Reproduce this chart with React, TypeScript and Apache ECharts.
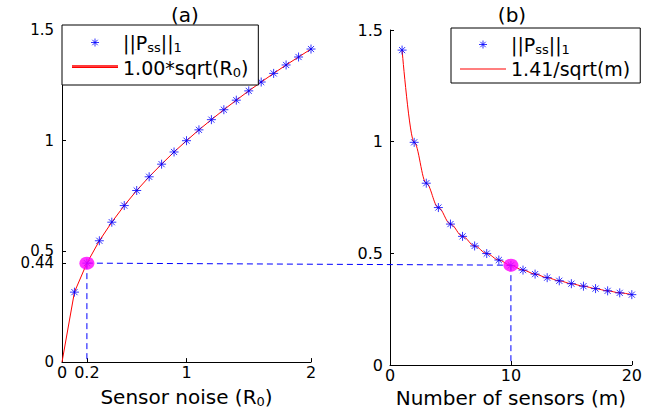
import React, { useEffect, useRef } from "react";
import * as echarts from "echarts";

// ---- data ----
const noiseR0 = [0.1, 0.2, 0.3, 0.4, 0.5, 0.6, 0.7, 0.8, 0.9, 1.0, 1.1, 1.2, 1.3, 1.4, 1.5, 1.6, 1.7, 1.8, 1.9, 2.0];
const pssNoise = [0.316, 0.447, 0.548, 0.632, 0.707, 0.775, 0.837, 0.894, 0.949, 1.0, 1.049, 1.095, 1.14, 1.183, 1.225, 1.265, 1.304, 1.342, 1.378, 1.414];
const fitNoiseX = [0, 0.1, 0.2, 0.3, 0.4, 0.5, 0.6, 0.7, 0.8, 0.9, 1.0, 1.1, 1.2, 1.3, 1.4, 1.5, 1.6, 1.7, 1.8, 1.9, 2.0];
const fitNoiseY = [0, 0.316, 0.447, 0.548, 0.632, 0.707, 0.775, 0.837, 0.894, 0.949, 1.0, 1.049, 1.095, 1.14, 1.183, 1.225, 1.265, 1.304, 1.342, 1.378, 1.414];

const sensorsM = [1, 2, 3, 4, 5, 6, 7, 8, 9, 10, 11, 12, 13, 14, 15, 16, 17, 18, 19, 20];
const pssSensors = [1.41, 0.997, 0.814, 0.705, 0.631, 0.576, 0.533, 0.499, 0.47, 0.446, 0.425, 0.407, 0.391, 0.377, 0.364, 0.353, 0.342, 0.332, 0.323, 0.315];

const markedNoise = 0.2;
const markedSensors = 10;
const markedValue = 0.447;

const xTicksA = [0, 0.2, 1, 2];
const xTickLabelsA = ["0", "0.2", "1", "2"];
const yTicksA = [0, 0.447, 0.5, 1, 1.5];
const yTickLabelsA = ["0", "0.44", "0.5", "1", "1.5"];
const xTicksB = [0, 10, 20];
const yTicksB = [0, 0.5, 1, 1.5];

const legendLabels: Record<string, string> = {
  pssA: "||P{sub|ss}||{sub|1}",
  fitA: "1.00*sqrt(R{sub|0})",
  pssB: "||P{sub|ss}||{sub|1}",
  fitB: "1.41/sqrt(m)",
};

const FONT = "DejaVu Sans";
const STAR = "path://M5 0 L5 10 M0 5 L10 5 M1.6 1.6 L8.4 8.4 M8.4 1.6 L1.6 8.4";
const LINE_ICON = "path://M0 0 L46 0 L46 1 L0 1 Z";
const BLUE = "#0000ff";
const RED = "#ff0000";
const MAGENTA = "#ff00ff";

const zip = (xs: number[], ys: number[]) => xs.map((x, i) => [x, ys[i]]);

const subRich = {
  sub: { fontFamily: FONT, fontSize: 13, lineHeight: 12, padding: [10, 0, 0, 0], color: "#000" },
};

function axisBase(extra: any) {
  return {
    type: "value",
    axisLine: { show: true, lineStyle: { color: "#000", width: 1 } },
    splitLine: { show: false },
    ...extra,
  };
}

function ticks(values: number[]) {
  return { show: true, inside: true, length: 4, lineStyle: { color: "#000" }, customValues: values };
}

function makeLegend(left: number, top: number, names: string[], padding: number[]) {
  return {
    orient: "vertical",
    left,
    top,
    z: 10,
    data: [
      { name: names[0], icon: STAR, itemStyle: { color: BLUE, borderColor: BLUE, borderWidth: 1 } },
      { name: names[1], icon: LINE_ICON },
    ],
    formatter: (n: string) => legendLabels[n],
    textStyle: { fontFamily: FONT, fontSize: 19, color: "#000", lineHeight: 22, rich: subRich },
    itemWidth: 46,
    itemHeight: 8,
    itemGap: 2,
    padding,
    borderColor: "#000",
    borderWidth: 1,
    backgroundColor: "#fff",
    selectedMode: false,
  };
}

function fitSeries(name: string, axis: number, data: number[][], smooth: number) {
  return {
    name,
    type: "line",
    xAxisIndex: axis,
    yAxisIndex: axis,
    data,
    symbol: "none",
    smooth,
    smoothMonotone: "x",
    color: RED,
    lineStyle: { color: RED, width: 1 },
    itemStyle: { color: RED, borderWidth: 0 },
    z: 2,
  };
}

function starSeries(name: string, axis: number, data: number[][]) {
  return {
    name,
    type: "scatter",
    xAxisIndex: axis,
    yAxisIndex: axis,
    data,
    symbol: STAR,
    symbolSize: 9,
    symbolKeepAspect: true,
    itemStyle: { color: BLUE, borderColor: BLUE, borderWidth: 1 },
    z: 3,
  };
}

function dotSeries(name: string, axis: number, data: number[][]) {
  return {
    name,
    type: "scatter",
    xAxisIndex: axis,
    yAxisIndex: axis,
    data,
    symbol: "circle",
    symbolSize: [15, 13],
    itemStyle: { color: MAGENTA },
    z: 5,
  };
}

export default function App() {
  const ref = useRef<HTMLDivElement>(null);

  useEffect(() => {
    if (!ref.current) return;
    const chart = echarts.init(ref.current, null, { renderer: "svg" });
    const labelStyle = { fontFamily: FONT, fontSize: 16, lineHeight: 12, color: "#000" };
    const nameStyle = { fontFamily: FONT, fontSize: 20, color: "#000", rich: subRich };

    chart.setOption({
      animation: false,
      backgroundColor: "#fff",
      color: [BLUE, RED, MAGENTA],
      grid: [
        { left: 62, top: 30, width: 249, height: 335 },
        { left: 390, top: 30, width: 248, height: 335 },
      ],
      xAxis: [
        axisBase({
          gridIndex: 0,
          min: 0,
          max: 2,
          name: "Sensor noise (R{sub|0})",
          nameLocation: "middle",
          nameGap: 19,
          nameTextStyle: nameStyle,
          axisTick: ticks(xTicksA),
          axisLabel: {
            ...labelStyle,
            margin: 4,
            customValues: xTicksA,
            formatter: (v: number) => xTickLabelsA[xTicksA.indexOf(v)] ?? String(v),
          },
        }),
        axisBase({
          gridIndex: 1,
          min: 0,
          max: 20,
          interval: 10,
          name: "Number of sensors (m)",
          nameLocation: "middle",
          nameGap: 19,
          nameTextStyle: nameStyle,
          axisTick: ticks(xTicksB),
          axisLabel: { ...labelStyle, margin: 4, customValues: xTicksB },
        }),
      ],
      yAxis: [
        axisBase({
          gridIndex: 0,
          min: 0,
          max: 1.5,
          axisTick: ticks(yTicksA),
          axisLabel: {
            ...labelStyle,
            fontSize: 15,
            lineHeight: 11,
            margin: 8,
            customValues: yTicksA,
            formatter: (v: number) => yTickLabelsA[yTicksA.indexOf(v)] ?? String(v),
          },
        }),
        axisBase({
          gridIndex: 1,
          min: 0,
          max: 1.5,
          interval: 0.5,
          axisTick: ticks(yTicksB),
          axisLabel: { ...labelStyle, margin: 7, customValues: yTicksB },
        }),
      ],
      legend: [
        makeLegend(62, 25, ["pssA", "fitA"], [6, 10, 6, 10]),
        makeLegend(451, 28, ["pssB", "fitB"], [5, 10, 3, 9]),
      ],
      graphic: [
        { id: "ta", type: "text", x: 185, y: 15, style: { text: "(a)", fontFamily: FONT, fontSize: 20, fill: "#000", textAlign: "center", textVerticalAlign: "middle" } },
        { id: "tb", type: "text", x: 512, y: 15, style: { text: "(b)", fontFamily: FONT, fontSize: 20, fill: "#000", textAlign: "center", textVerticalAlign: "middle" } },
        // red key line for the left legend's fit entry
        { id: "keyA", type: "rect", z: 100, zlevel: 0, shape: { x: 72, y: 65, width: 46, height: 2 }, style: { fill: "#ff3b3b" } },
      ],
      series: [
        starSeries("pssA", 0, zip(noiseR0, pssNoise)),
        fitSeries("fitA", 0, zip(fitNoiseX, fitNoiseY), 0),
        dotSeries("dotA", 0, [[markedNoise, markedValue]]),
        starSeries("pssB", 1, zip(sensorsM, pssSensors)),
        fitSeries("fitB", 1, zip(sensorsM, pssSensors), 0.35),
        dotSeries("dotB", 1, [[markedSensors, markedValue]]),
      ],
    });

    // dashed guide lines through the library's own scales
    const pA = chart.convertToPixel({ gridIndex: 0 }, [markedNoise, markedValue]) as number[];
    const pA0 = chart.convertToPixel({ gridIndex: 0 }, [markedNoise, 0]) as number[];
    const pB = chart.convertToPixel({ gridIndex: 1 }, [markedSensors, markedValue]) as number[];
    const pB0 = chart.convertToPixel({ gridIndex: 1 }, [markedSensors, 0]) as number[];
    const dash = { stroke: BLUE, lineWidth: 1, lineDash: [6, 4], fill: null };
    chart.setOption({
      graphic: [
        { id: "h", type: "line", z: 1, shape: { x1: pA[0], y1: pA[1], x2: pB[0], y2: pB[1] }, style: dash },
        { id: "va", type: "line", z: 1, shape: { x1: pA[0], y1: pA[1], x2: pA0[0], y2: pA0[1] }, style: dash },
        { id: "vb", type: "line", z: 1, shape: { x1: pB[0], y1: pB[1], x2: pB0[0], y2: pB0[1] }, style: dash },
      ],
    });

    return () => chart.dispose();
  }, []);

  return <div ref={ref} style={{ position: "absolute", left: 0, top: 0, width: 645, height: 413 }} />;
}
